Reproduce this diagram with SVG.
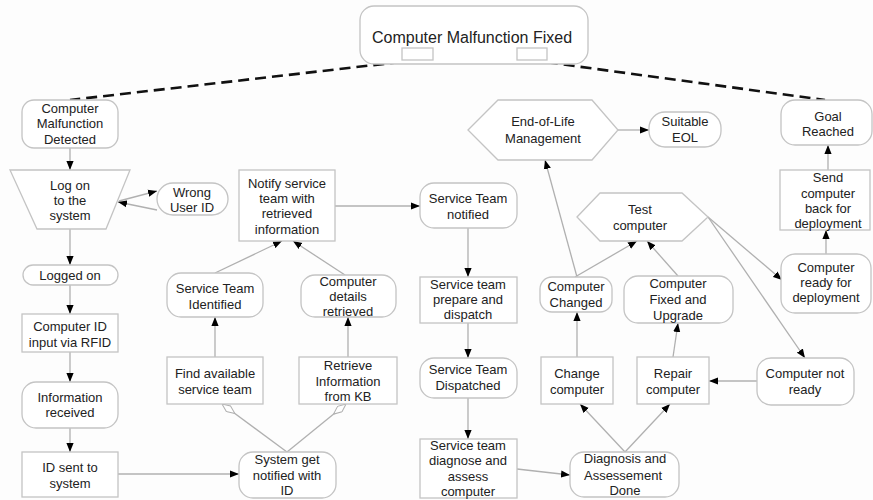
<svg xmlns="http://www.w3.org/2000/svg" width="873" height="500" viewBox="0 0 873 500">
<defs>
<style>
.n{fill:#fff;stroke:#c4c4c4;stroke-width:1.3}
.t{font-family:"Liberation Sans",Arial,sans-serif;font-size:13px;fill:#222;text-anchor:middle}
.c{fill:none;stroke:#b0b0b0;stroke-width:1.3}
.a{marker-end:url(#arr)}
.d{marker-end:url(#dia)}
.dash{fill:none;stroke:#111;stroke-width:2.6;stroke-dasharray:11 6}
</style>
<marker id="arr" viewBox="0 0 10 8" refX="10" refY="4" markerUnits="userSpaceOnUse" markerWidth="9" markerHeight="8" orient="auto">
<path d="M0,0 L10,4 L0,8 Z" fill="#000"/>
</marker>
<marker id="dia" viewBox="0 0 16 8" refX="16" refY="4" markerUnits="userSpaceOnUse" markerWidth="16" markerHeight="8" orient="auto">
<path d="M0,4 L8,0.5 L16,4 L8,7.5 Z" fill="#fff" stroke="#b0b0b0" stroke-width="1"/>
</marker>
</defs>
<rect width="873" height="500" fill="#fdfdfd"/>

<g id="connectors">
<path class="dash" d="M418,60 L70,100"/>
<path class="dash" d="M530,60 L825,100"/>
<path class="c a" d="M70,148 L70,170"/>
<path class="c a" d="M119,201 L157,191"/>
<path class="c a" d="M157,210 L118,202"/>
<path class="c a" d="M70,229 L70,265"/>
<path class="c a" d="M70,285 L70,314"/>
<path class="c a" d="M70,352 L70,382"/>
<path class="c a" d="M70,428 L70,452"/>
<path class="c a" d="M118,474 L239,474"/>
<path class="c d" d="M287,452 L222,404"/>
<path class="c d" d="M287,452 L346,404"/>
<path class="c a" d="M215,357 L215,317"/>
<path class="c a" d="M348,357 L348,317"/>
<path class="c a" d="M215,273 L282,241"/>
<path class="c a" d="M345,275 L293,241"/>
<path class="c a" d="M335,206 L420,206"/>
<path class="c a" d="M468,228 L468,277"/>
<path class="c a" d="M468,323 L468,358"/>
<path class="c a" d="M468,398 L468,439"/>
<path class="c a" d="M517,469 L570,475"/>
<path class="c a" d="M625,452 L580,404"/>
<path class="c a" d="M625,452 L670,404"/>
<path class="c a" d="M757,381 L709,381"/>
<path class="c a" d="M577,357 L577,312"/>
<path class="c a" d="M673,357 L678,323"/>
<path class="c a" d="M575,277 L637,241"/>
<path class="c a" d="M678,276 L647,241"/>
<path class="c a" d="M577,277 L545,160"/>
<path class="c a" d="M618,130 L649,130"/>
<path class="c a" d="M708,217 L782,280"/>
<path class="c a" d="M708,217 L805,358"/>
<path class="c a" d="M826,254 L826,230"/>
<path class="c a" d="M828,170 L828,145"/>
</g>

<g id="n-fixed">
<rect class="n" x="360" y="6" width="228" height="58" rx="14"/>
<rect class="n" x="402" y="48" width="31" height="12"/>
<rect class="n" x="517" y="48" width="30" height="12"/>
<text class="t" x="472" y="43" style="font-size:16px">Computer Malfunction Fixed</text>
</g>
<g id="n-detected">
<rect class="n" x="22" y="100" width="96" height="48" rx="12"/>
<text class="t" x="70" y="113">Computer</text>
<text class="t" x="70" y="128">Malfunction</text>
<text class="t" x="70" y="144">Detected</text>
</g>
<g id="n-logon">
<polygon class="n" points="10,170 130,170 106,229 37,229"/>
<text class="t" x="70" y="190">Log on</text>
<text class="t" x="70" y="205">to the</text>
<text class="t" x="70" y="220">system</text>
</g>
<g id="n-wrong">
<rect class="n" x="157" y="183" width="71" height="32" rx="16"/>
<text class="t" x="192" y="197">Wrong</text>
<text class="t" x="192" y="212">User ID</text>
</g>
<g id="n-loggedon">
<rect class="n" x="23" y="265" width="95" height="20" rx="10"/>
<text class="t" x="70" y="280">Logged on</text>
</g>
<g id="n-rfid">
<rect class="n" x="22" y="314" width="96" height="38"/>
<text class="t" x="70" y="331">Computer ID</text>
<text class="t" x="70" y="347">input via RFID</text>
</g>
<g id="n-inforec">
<rect class="n" x="22" y="382" width="96" height="46" rx="14"/>
<text class="t" x="70" y="402">Information</text>
<text class="t" x="70" y="417">received</text>
</g>
<g id="n-idsent">
<rect class="n" x="22" y="452" width="96" height="45"/>
<text class="t" x="70" y="472">ID sent to</text>
<text class="t" x="70" y="488">system</text>
</g>
<g id="n-sysnotified">
<rect class="n" x="239" y="452" width="97" height="46" rx="14"/>
<text class="t" x="287" y="464">System get</text>
<text class="t" x="287" y="480">notified with</text>
<text class="t" x="287" y="495">ID</text>
</g>
<g id="n-findteam">
<rect class="n" x="167" y="357" width="96" height="47"/>
<text class="t" x="215" y="378">Find available</text>
<text class="t" x="215" y="394">service team</text>
</g>
<g id="n-retrieve">
<rect class="n" x="299" y="357" width="98" height="47"/>
<text class="t" x="348" y="370">Retrieve</text>
<text class="t" x="348" y="386">Information</text>
<text class="t" x="348" y="401">from KB</text>
</g>
<g id="n-teamid">
<rect class="n" x="167" y="273" width="96" height="44" rx="14"/>
<text class="t" x="215" y="293">Service Team</text>
<text class="t" x="215" y="309">Identified</text>
</g>
<g id="n-details">
<rect class="n" x="301" y="275" width="95" height="42" rx="14"/>
<text class="t" x="348" y="286">Computer</text>
<text class="t" x="348" y="301">details</text>
<text class="t" x="348" y="316">retrieved</text>
</g>
<g id="n-notify">
<rect class="n" x="239" y="170" width="96" height="71"/>
<text class="t" x="287" y="188">Notify service</text>
<text class="t" x="287" y="203">team with</text>
<text class="t" x="287" y="218">retrieved</text>
<text class="t" x="287" y="234">information</text>
</g>
<g id="n-teamnotified">
<rect class="n" x="420" y="183" width="97" height="45" rx="14"/>
<text class="t" x="468" y="203">Service Team</text>
<text class="t" x="468" y="219">notified</text>
</g>
<g id="n-prepare">
<rect class="n" x="420" y="277" width="97" height="46"/>
<text class="t" x="468" y="289">Service team</text>
<text class="t" x="468" y="304">prepare and</text>
<text class="t" x="468" y="319">dispatch</text>
</g>
<g id="n-dispatched">
<rect class="n" x="420" y="358" width="97" height="40" rx="14"/>
<text class="t" x="468" y="374">Service Team</text>
<text class="t" x="468" y="390">Dispatched</text>
</g>
<g id="n-diagnose">
<rect class="n" x="420" y="439" width="97" height="59"/>
<text class="t" x="468" y="450">Service team</text>
<text class="t" x="468" y="465">diagnose and</text>
<text class="t" x="468" y="481">assess</text>
<text class="t" x="468" y="496">computer</text>
</g>
<g id="n-diagdone">
<rect class="n" x="570" y="452" width="109" height="45" rx="14"/>
<text class="t" x="625" y="463">Diagnosis and</text>
<text class="t" x="623" y="480">Assessement</text>
<text class="t" x="625" y="495">Done</text>
</g>
<g id="n-change">
<rect class="n" x="541" y="357" width="72" height="47"/>
<text class="t" x="577" y="378">Change</text>
<text class="t" x="577" y="394">computer</text>
</g>
<g id="n-repair">
<rect class="n" x="637" y="357" width="72" height="47"/>
<text class="t" x="673" y="378">Repair</text>
<text class="t" x="673" y="394">computer</text>
</g>
<g id="n-notready">
<rect class="n" x="757" y="358" width="97" height="47" rx="14"/>
<text class="t" x="805" y="378">Computer not</text>
<text class="t" x="805" y="394">ready</text>
</g>
<g id="n-changed">
<rect class="n" x="540" y="277" width="72" height="35" rx="12"/>
<text class="t" x="576" y="291">Computer</text>
<text class="t" x="576" y="307">Changed</text>
</g>
<g id="n-fixedup">
<rect class="n" x="624" y="276" width="109" height="47" rx="14"/>
<text class="t" x="678" y="288">Computer</text>
<text class="t" x="678" y="304">Fixed and</text>
<text class="t" x="678" y="320">Upgrade</text>
</g>
<g id="n-test">
<polygon class="n" points="577,217 600,193 682,193 708,217 682,241 600,241"/>
<text class="t" x="640" y="214">Test</text>
<text class="t" x="640" y="230">computer</text>
</g>
<g id="n-eol">
<polygon class="n" points="468,130 498,100 592,100 618,130 592,160 498,160"/>
<text class="t" x="543" y="126">End-of-Life</text>
<text class="t" x="543" y="143">Management</text>
</g>
<g id="n-suitable">
<rect class="n" x="649" y="112" width="72" height="35" rx="16"/>
<text class="t" x="685" y="126">Suitable</text>
<text class="t" x="685" y="142">EOL</text>
</g>
<g id="n-goal">
<rect class="n" x="781" y="100" width="91" height="45" rx="14"/>
<text class="t" x="828" y="121">Goal</text>
<text class="t" x="828" y="136">Reached</text>
</g>
<g id="n-send">
<rect class="n" x="780" y="170" width="90" height="60"/>
<text class="t" x="828" y="182">Send</text>
<text class="t" x="828" y="198">computer</text>
<text class="t" x="828" y="213">back for</text>
<text class="t" x="828" y="228">deployment</text>
</g>
<g id="n-ready">
<rect class="n" x="781" y="254" width="90" height="59" rx="14"/>
<text class="t" x="826" y="272">Computer</text>
<text class="t" x="826" y="287">ready for</text>
<text class="t" x="826" y="302">deployment</text>
</g>
</svg>
